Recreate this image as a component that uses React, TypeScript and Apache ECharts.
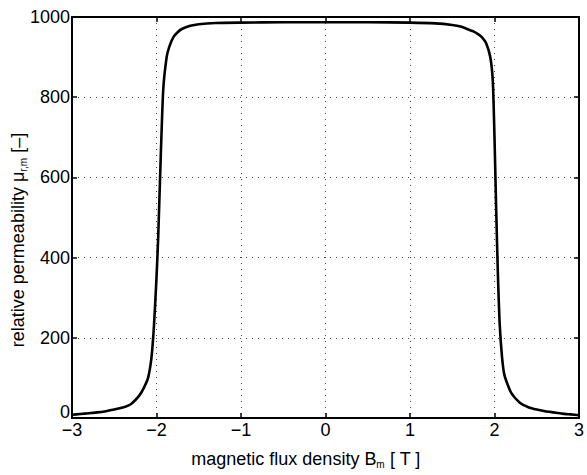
import React, { useEffect, useRef } from "react";
import * as echarts from "echarts";

// Magnetic flux density B_m [T]
const fluxDensity = [
  -3.0, -2.9, -2.8, -2.7, -2.6, -2.5, -2.4, -2.3, -2.2, -2.15, -2.1, -2.06, -2.03,
  -2.0, -1.98, -1.95, -1.92, -1.88, -1.85, -1.8, -1.75, -1.7, -1.6, -1.5, -1.3,
  -1.0, -0.5, 0.0, 0.5, 1.0, 1.3, 1.5, 1.6, 1.7, 1.75, 1.8, 1.85, 1.9, 1.95, 1.98,
  2.0, 2.02, 2.04, 2.06, 2.09, 2.12, 2.2, 2.3, 2.4, 2.5, 2.6, 2.7, 2.8, 2.9, 3.0,
];

// Relative permeability mu_r,m [-]
const permeability = [
  8, 10, 12, 14, 17, 21, 26, 35, 57, 75, 100, 150, 230,
  350, 450, 650, 820, 900, 925, 950, 962, 970, 978, 982, 985,
  986, 987, 987, 987, 986, 984, 980, 976, 968, 964, 958, 950, 935, 900, 840,
  700, 520, 360, 240, 150, 105, 62, 38, 27, 21, 17, 14, 11, 9, 7,
];

const xTicks = [-3, -2, -1, 0, 1, 2, 3];
const yTicks = [0, 200, 400, 600, 800, 1000];

const fmtNum = (v: number) => (v < 0 ? "\u2212" + Math.abs(v) : String(v));

const FONT = "'Liberation Sans', Arial, Helvetica, sans-serif";

export default function App() {
  const ref = useRef<HTMLDivElement>(null);

  useEffect(() => {
    document.body.style.margin = "0";
    if (!ref.current) return;
    const chart = echarts.init(ref.current, null, { renderer: "svg" });
    const gridLine = { show: true, lineStyle: { color: "#444", type: [1, 5] as any, width: 1 } };
    const axisLine = { show: true, onZero: false, lineStyle: { color: "#000", width: 2 } };
    const tick = { show: true, inside: true, length: 5, lineStyle: { color: "#000", width: 1.5 } };
    const rich = {
      n: { fontFamily: FONT, fontSize: 18, color: "#000" },
      s: { fontFamily: FONT, fontSize: 10, color: "#000", padding: [10, 0, 0, 0] },
    };

    chart.setOption({
      animation: false,
      backgroundColor: "#fff",
      grid: { left: 72, right: 4, top: 17, bottom: 57 },
      xAxis: [
        {
          type: "value",
          min: -3,
          max: 3,
          interval: 1,
          axisLine,
          axisTick: tick,
          splitLine: gridLine,
          axisLabel: {
            color: "#000",
            fontFamily: FONT,
            fontSize: 18,
            margin: 3,
            formatter: (v: number) => (xTicks.includes(v) ? fmtNum(v) : ""),
          },
        },
        {
          type: "value",
          position: "top",
          min: -3,
          max: 3,
          interval: 1,
          axisLine,
          axisTick: tick,
          axisLabel: { show: false },
          splitLine: { show: false },
        },
      ],
      yAxis: [
        {
          type: "value",
          min: 0,
          max: 1000,
          interval: 200,
          axisLine,
          axisTick: tick,
          splitLine: gridLine,
          axisLabel: {
            color: "#000",
            fontFamily: FONT,
            fontSize: 18,
            margin: 2,
            formatter: (v: number) =>
              yTicks.includes(v) ? (v === 0 ? "{z|0}" : fmtNum(v)) : "",
            rich: {
              // the zero label sits a little higher so it clears the x-axis "−3"
              z: { fontFamily: FONT, fontSize: 18, color: "#000", padding: [0, 0, 12, 0] },
            },
          },
        },
        {
          type: "value",
          position: "right",
          min: 0,
          max: 1000,
          interval: 200,
          axisLine,
          axisTick: tick,
          axisLabel: { show: false },
          splitLine: { show: false },
        },
      ],
      graphic: [
        {
          type: "text",
          x: 306,
          y: 459,
          style: {
            text: "{n|magnetic flux density B}{s|m}{n| [ T ]}",
            rich,
            align: "center",
            verticalAlign: "middle",
          },
        },
        {
          type: "text",
          x: 18,
          y: 240,
          rotation: Math.PI / 2,
          style: {
            text: "{n|relative permeability \u03bc}{s|r,m}{n| [\u2013]}",
            rich,
            align: "center",
            verticalAlign: "middle",
          },
        },
      ],
      series: [
        {
          type: "line",
          xAxisIndex: 0,
          yAxisIndex: 0,
          data: fluxDensity.map((b, i) => [b, permeability[i]]),
          showSymbol: false,
          smooth: 0.2,
          lineStyle: { color: "#000", width: 2.6 },
          z: 3,
        },
      ],
    });

    return () => chart.dispose();
  }, []);

  return <div ref={ref} style={{ width: 587, height: 475 }} />;
}
